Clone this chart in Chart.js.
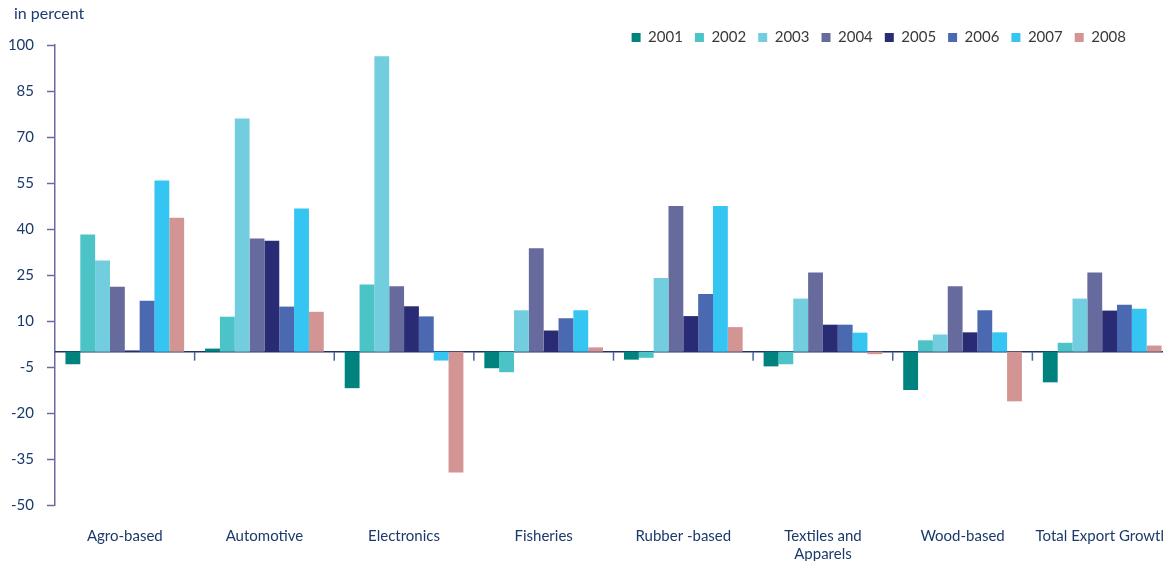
<!DOCTYPE html>
<html><head><meta charset="utf-8">
<script src="https://cdn.jsdelivr.net/npm/chart.js@4/dist/chart.umd.min.js"></script>
<style>
html,body{margin:0;padding:0;background:#fff;overflow:hidden;}
#wrap{position:relative;width:1172px;height:561px;}
#unit{position:absolute;left:14px;top:3px;font:16px Lato, sans-serif;color:#1f3a70;}
</style></head><body>
<div id="wrap"><canvas id="c" width="1172" height="561"></canvas><div id="unit">in percent</div></div>
<script>
const categories = ['Agro-based','Automotive','Electronics','Fisheries','Rubber -based',['Textiles and','Apparels'],'Wood-based','Total Export Growth'];
const years = ['2001','2002','2003','2004','2005','2006','2007','2008'];
const v2001 = [-4.1, 1.0, -11.9, -5.4, -2.6, -4.8, -12.5, -10.0];
const v2002 = [38.2, 11.4, 21.9, -6.7, -2.0, -4.1, 3.7, 2.9];
const v2003 = [29.7, 76.0, 96.3, 13.5, 24.0, 17.3, 5.6, 17.3];
const v2004 = [21.2, 36.9, 21.3, 33.7, 47.5, 25.8, 21.3, 25.8];
const v2005 = [0.4, 36.2, 14.8, 6.9, 11.6, 8.8, 6.3, 13.4];
const v2006 = [16.6, 14.7, 11.5, 10.9, 18.8, 8.8, 13.5, 15.3];
const v2007 = [55.8, 46.7, -2.9, 13.5, 47.5, 6.2, 6.3, 14.0];
const v2008 = [43.7, 13.0, -39.4, 1.4, 8.0, -0.8, -16.2, 2.0];
const yTicks = [-50,-35,-20,-5,10,25,40,55,70,85,100];
const colors = ['#00837f','#4bc3c7','#72cede','#676a9c','#292c74','#4b69b1','#35c5f3','#d39494'];
const seriesValues = [v2001,v2002,v2003,v2004,v2005,v2006,v2007,v2008];

const axisDeco = {
  id:'axisDeco',
  beforeDatasetsDraw(chart){
    const {ctx, chartArea, scales:{x,y}} = chart;
    const y0 = y.getPixelForValue(0);
    ctx.save();
    ctx.strokeStyle='#1f3366'; ctx.lineWidth=1.5;
    ctx.beginPath(); ctx.moveTo(chartArea.left, y0); ctx.lineTo(chartArea.right, y0); ctx.stroke();
    ctx.strokeStyle='#4a64a0'; ctx.lineWidth=1.5;
    for (let i=1;i<categories.length;i++){
      const xb = (x.getPixelForTick(i-1)+x.getPixelForTick(i))/2;
      ctx.beginPath(); ctx.moveTo(xb,y0); ctx.lineTo(xb,y0+9); ctx.stroke();
    }
    ctx.restore();
  },
  afterLayout(chart){
    const l = chart.legend;
    if (l){ l.top += 10; l.bottom += 10; l.right -= 34; }
  }
};

new Chart(document.getElementById('c'), {
  type:'bar',
  data:{
    labels: categories,
    datasets: years.map((yr,i)=>({
      label: yr, data: seriesValues[i], backgroundColor: colors[i],
      borderWidth:0, barPercentage:1.0, categoryPercentage:0.85
    }))
  },
  options:{
    responsive:false, animation:false,
    layout:{padding:{top:8,left:0,right:0,bottom:0}},
    plugins:{
      tooltip:{enabled:false},
      legend:{
        position:'top', align:'end',
        labels:{boxWidth:9, boxHeight:9, padding:12, color:'#3a3a3a', font:{family:'Lato', size:15}}
      }
    },
    scales:{
      x:{
        offset:true,
        grid:{display:false, drawTicks:false},
        border:{display:false},
        ticks:{padding:22, color:'#1b3a6b', font:{family:'Lato', size:15}, maxRotation:0, autoSkip:false},
        afterFit(s){ s.height = 56; s.paddingLeft = 0; s.paddingRight = 0; }
      },
      y:{
        min:-50, max:100,
        afterBuildTicks(s){ s.ticks = yTicks.map(v=>({value:v})); },
        grid:{color:'rgba(0,0,0,0)', drawOnChartArea:false, tickLength:8, tickColor:'#6a6aa3', tickWidth:1.5},
        border:{color:'#6a6aa3', width:1.5},
        ticks:{padding:13, color:'#1b3a6b', font:{family:'Lato', size:15}},
        afterFit(s){ s.width = 55; }
      }
    }
  },
  plugins:[axisDeco]
});
</script>
</body></html>
